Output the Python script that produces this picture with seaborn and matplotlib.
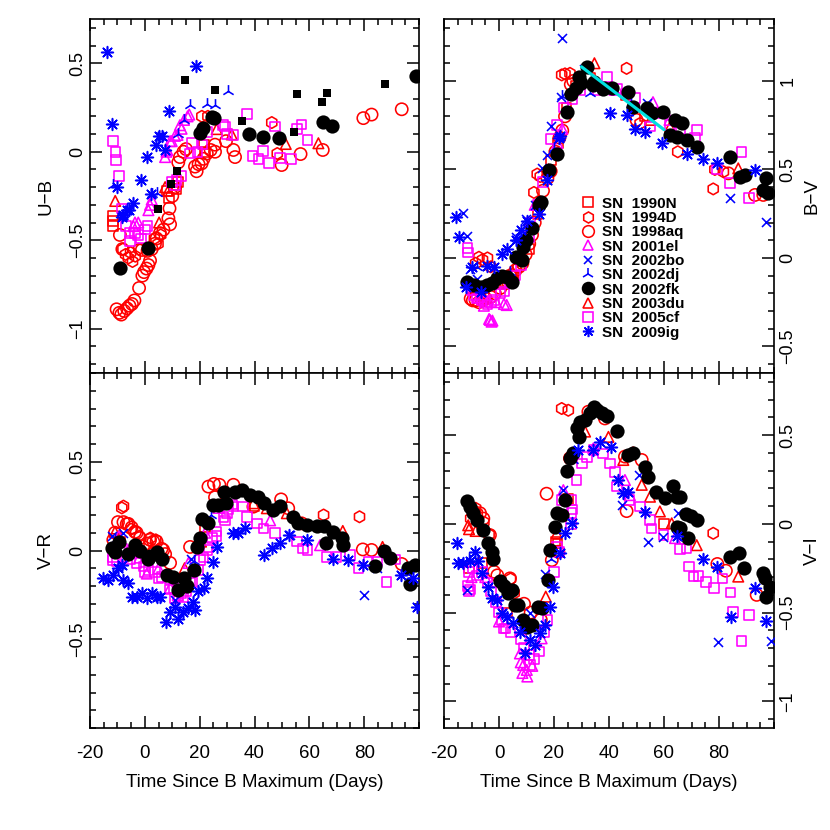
import matplotlib
matplotlib.use("Agg")
import matplotlib.pyplot as plt
import seaborn as sns
import pandas as pd
from matplotlib.lines import Line2D
from matplotlib.ticker import FixedLocator, MultipleLocator

# ---------------- data (time since B max [d], colour [mag]) ----------------
SN_NAMES = ["SN  1990N", "SN  1994D", "SN  1998aq", "SN  2001el", "SN  2002bo",
            "SN  2002dj", "SN  2002fk", "SN  2003du", "SN  2005cf", "SN  2009ig"]

# ----- U-B -----
UB_1990N = [(-11.5,-0.36),(-11.5,-0.39),(-11.5,-0.42),(8.0,-0.22),(8.8,-0.26),(10.4,-0.19),
            (11.6,-0.21),(12.2,-0.17),(21.6,0.04),(22.0,0.0)]
UB_1994D = [(-8.0,-0.55),(-7.0,-0.58),(-6.0,-0.60),(-5.2,-0.57),(-4.5,-0.62),(-3.5,-0.59),
            (-2.2,-0.55),(3.5,-0.49),(4.8,-0.52),(5.8,-0.47),(20.8,0.2),(23.0,0.2),(46.3,0.165),(48.3,-0.01)]
UB_1998aq = [(-10.3,-0.89),(-9.3,-0.91),(-8.6,-0.92),(-7.5,-0.90),(-6.5,-0.885),(-5.6,-0.87),(-4.7,-0.86),
             (-3.8,-0.84),(-2.1,-0.77),(-0.9,-0.70),(-0.3,-0.68),(0.6,-0.66),(1.3,-0.64),(1.9,-0.615),
             (-9.1,-0.47),(-8.2,-0.55),(-1.1,-0.555),(1.0,-0.56),(2.5,-0.55),(3.7,-0.52),(4.3,-0.49),
             (5.5,-0.46),(6.8,-0.44),(8.6,-0.376),(9.2,-0.41),(9.0,-0.32),(10.0,-0.25),(11.0,-0.2),
             (12.2,-0.06),(12.8,-0.03),(14.1,0.0),(15.0,0.015),(18.3,-0.084),(18.9,-0.11),(19.6,-0.07),
             (20.7,-0.066),(21.4,-0.04),(22.6,-0.01),(24.0,0.01),(25.6,0.0),(25.6,0.04),(29.6,0.06),
             (32.3,0.01),(32.9,-0.03),(49.9,-0.075),(56.8,-0.013),(64.9,0.01),(79.7,0.19),(82.7,0.21),(93.7,0.24)]
UB_2001el = [(-4.2,-0.42),(-3.6,-0.40),(-2.4,-0.40),(1.3,-0.33),(1.9,-0.30),(2.5,-0.27),(7.4,-0.03),
             (7.9,0.0),(8.2,0.01),(9.2,0.06),(9.8,0.06),(11.0,0.09),(11.9,0.095),(12.8,0.15),(13.4,0.13),
             (14.3,0.18),(15.6,0.20),(16.2,0.21)]
UB_2002bo = []
UB_2002dj = [(-11.5,-0.19),(2.5,-0.24),(4.3,-0.235),(12.2,0.10),(14.4,0.18),(16.5,0.265),(22.6,0.27),
             (25.6,0.265),(30.5,0.345)]
UB_2002fk = [(-9.0,-0.655),(1.3,-0.546),(20.1,0.108),(21.1,0.132),(24.4,0.198),(25.2,0.19),(38.1,0.098),
             (43.0,0.085),(48.9,0.076),(65.1,0.166),(68.2,0.147),(98.9,0.43)]
UB_2003du = [(-10.8,-0.278),(5.2,-0.40),(7.4,-0.20),(8.5,-0.22),(26.2,0.128),(31.7,0.098),(51.4,0.044),(63.3,0.048)]
UB_2005cf = [(-11.7,0.06),(-10.7,0.0),(-10.6,-0.047),(-9.5,-0.136),(-8.4,-0.32),(-6.9,-0.42),(-5.6,-0.46),
             (-5.4,-0.505),(-3.6,-0.46),(-2.5,-0.47),(-1.5,-0.49),(0.1,-0.44),(1.0,-0.42),(10.0,-0.17),
             (11.0,-0.19),(11.6,-0.16),(13.4,-0.136),(16.5,-0.01),(17.1,0.05),(19.2,0.0),(21.0,0.04),
             (22.6,0.11),(28.6,0.15),(29.2,0.142),(29.9,0.1),(32.3,0.095),(37.3,0.215),(39.3,-0.024),
             (41.4,-0.04),(43.2,0.005),(45.4,-0.062),(47.5,0.142),(49.3,-0.037),(53.3,-0.04),(55.4,0.129),
             (57.2,0.155),(59.3,0.066)]
UB_2009ig = [(-13.9,0.562),(-12.1,0.155),(-10.0,-0.20),(-8.4,-0.37),(-7.8,-0.36),(-6.6,-0.33),
             (-5.6,-0.33),(-4.2,-0.29),(-1.4,-0.16),(0.7,-0.03),(2.3,-0.24),(4.0,0.04),(5.0,0.09),
             (6.1,0.09),(7.4,0.01),(8.9,0.23),(18.7,0.484)]
UB_extra = [(4.7,-0.323),(9.6,-0.182),(11.6,-0.107),(14.7,0.403),(25.6,0.347),(35.6,0.174),(54.5,0.11),
            (55.6,0.324),(64.6,0.281),(66.6,0.334),(87.6,0.381)]

# ----- B-V -----
BV_1990N = [(2.0,-0.15),(5.0,-0.10),(8.5,-0.02),(10.9,0.05),(14.0,0.25),(19.0,0.55),(21.5,0.65),
            (24.5,0.85),(28.0,0.97),(33.0,1.02),(46.0,0.92),(53.0,0.80)]
BV_1994D = [(-8.5,-0.03),(-7.3,0.004),(-6.0,-0.01),(-4.2,0.0),(-3.0,-0.05),(12.7,0.37),(13.9,0.474),
            (15.0,0.46),(22.8,1.034),(24.0,1.04),(25.8,1.043),(46.4,1.071),(51.3,0.76),(65.0,0.6),
            (77.9,0.39),(78.5,0.5),(81.6,0.487)]
BV_1998aq = [(-10.3,-0.23),(-9.5,-0.24),(-8.5,-0.24),(-7.3,-0.25),(-6.0,-0.24),(-4.8,-0.23),(-3.0,-0.22),
             (-1.5,-0.20),(0.5,-0.17),(2.0,-0.13),(4.0,-0.10),(6.0,-0.07),(7.3,-0.05),(8.5,-0.03),
             (9.7,0.02),(11.0,0.08),(12.0,0.13),(13.0,0.20),(14.5,0.30),(16.0,0.38),(17.6,0.45),
             (18.8,0.49),(20.5,0.60),(22.0,0.68),(23.0,0.72),(24.0,0.80),(26.1,0.98),(27.0,1.00),
             (50.0,0.78),(83.4,0.478),(93.1,0.356),(96.1,0.356)]
BV_2001el = [(-7.5,-0.22),(-5.5,-0.27),(-3.6,-0.345),(-3.3,-0.35),(-2.7,-0.36),(-2.4,-0.354),(-1.0,-0.25),
             (1.8,-0.26),(2.8,-0.266),(13.0,0.30),(21.2,0.65),(23.0,0.73),(42.0,0.95),(56.0,0.88),(62.0,0.78)]
BV_2002bo = [(-13.0,0.256),(-11.8,0.124),(-10.5,-0.06),(-8.0,-0.12),(6.1,0.12),(9.7,0.22),(13.0,0.30),
             (15.8,0.51),(17.3,0.58),(18.8,0.745),(22.4,0.911),(23.0,1.244),(31.0,1.07),(53.9,0.874),
             (84.0,0.34),(97.1,0.205)]
BV_2002dj = [(-8.0,-0.05),(4.0,-0.08),(10.0,0.15),(14.0,0.30),(20.0,0.62),(22.8,0.915),(33.0,0.93),(48.0,0.87)]
BV_2002fk = [(-11.5,-0.134),(-9.1,-0.153),(-6.7,-0.162),(-4.2,-0.153),(-2.4,-0.143),(-0.6,-0.115),
             (1.2,-0.102),(3.0,-0.106),(4.8,-0.134),(6.1,0.007),(8.5,-0.012),(8.8,0.063),(9.7,0.1),
             (12.1,0.167),(14.5,0.298),(15.2,0.317),(18.2,0.496),(21.0,0.59),(24.8,0.826),(26.1,0.926),
             (27.9,0.958),(29.1,1.024),(29.7,0.987),(32.1,1.081),(34.3,0.977),(34.5,0.996),(37.9,0.953),
             (38.2,0.958),(41.0,0.958),(47.0,0.939),(48.8,0.851),(53.7,0.845),(55.5,0.817),(59.8,0.826),
             (62.2,0.695),(63.9,0.779),(64.6,0.685),(66.4,0.76),(68.2,0.666),(71.9,0.629),(84.0,0.568),
             (87.6,0.459),(89.5,0.469),(96.1,0.384),(97.1,0.45),(97.9,0.365)]
BV_2003du = [(-9.0,-0.17),(0.0,-0.14),(5.0,-0.08),(18.0,0.50),(34.7,1.1),(55.0,0.78),(62.2,0.74),(87.0,0.506)]
BV_2005cf = [(-11.5,0.056),(-11.3,0.03),(-10.0,-0.18),(-9.0,-0.21),(-7.9,-0.23),(-6.1,-0.24),(-5.0,-0.25),
             (-4.2,-0.264),(-3.0,-0.25),(-1.8,-0.236),(0.6,-0.20),(2.0,-0.19),(4.0,-0.14),(6.0,-0.10),
             (8.0,-0.04),(10.9,0.12),(11.5,0.196),(14.0,0.30),(16.0,0.43),(18.8,0.672),(21.0,0.75),
             (23.5,0.85),(26.7,0.898),(29.7,0.945),(35.8,0.945),(39.2,1.024),(40.0,0.96),(42.8,0.958),
             (46.0,0.93),(49.5,0.902),(54.9,0.742),(58.0,0.82),(62.0,0.75),(66.0,0.73),(71.3,0.676),
             (71.9,0.723),(79.2,0.5),(84.0,0.422),(88.2,0.6),(90.9,0.34)]
BV_2009ig = [(-15.6,0.23),(-14.5,0.12),(-12.1,-0.166),(-9.7,-0.05),(-6.7,-0.19),(-4.2,-0.045),(-1.8,-0.05),
             (1.2,0.02),(3.0,0.05),(6.1,0.10),(7.9,0.16),(10.3,0.21),(14.5,0.25),(17.6,0.44),(21.8,0.68),
             (22.2,0.69),(40.4,0.817),(46.4,0.808),(49.5,0.729),(53.1,0.713),(59.4,0.647),(68.2,0.59),
             (74.3,0.557),(79.2,0.535),(93.1,0.497)]
LIRA_T = [30, 60]
LIRA_C = [1.08, 0.725]

# ----- V-R -----
VR_1990N = [(-9.0,0.05),(-2.0,0.03),(5.0,-0.02),(12.0,-0.2),(22.0,0.13),(40.0,0.25)]
VR_1994D = [(-8.4,0.24),(-7.8,0.25),(-5.0,0.12),(-2.0,0.08),(2.0,0.07),(4.0,0.06),(65.2,0.2),(78.3,0.19)]
VR_1998aq = [(-11.5,0.06),(-10.9,0.10),(-9.8,0.16),(-7.8,0.16),(-6.6,0.15),(-6.0,0.15),(-4.8,0.13),
             (-3.6,0.105),(-3.0,0.10),(-1.8,0.07),(0.7,0.04),(1.9,0.06),(3.1,0.05),(4.3,0.05),(6.1,0.01),
             (6.7,0.003),(7.4,-0.02),(9.2,-0.07),(16.5,0.02),(23.2,0.36),(25.2,0.375),(25.6,0.30),
             (27.2,0.37),(32.3,0.37),(39.6,0.247),(49.7,0.288),(52.3,0.238),(57.2,0.153),(79.5,0.006),
             (82.7,0.003),(93.7,-0.076)]
VR_2001el = [(-9.5,0.08),(-6.0,0.0),(-2.0,-0.04),(0.7,-0.13),(5.0,-0.1),(9.2,-0.21),(12.0,-0.25),
             (15.9,-0.07),(22.0,0.1),(26.8,0.24),(30.0,0.28),(45.7,0.17),(63.9,0.03)]
VR_2002bo = [(-12.0,0.08),(-8.0,0.1),(11.0,-0.28),(17.0,-0.05),(53.0,0.09),(80.0,-0.25),(84.5,-0.1)]
VR_2002dj = [(-11.0,0.06),(18.0,-0.06),(24.0,0.2)]
VR_2002fk = [(-12.1,0.013),(-10.9,-0.006),(-9.3,0.05),(-6.0,-0.02),(-3.6,0.03),(-1.8,0.0),(1.3,-0.05),
             (1.9,-0.03),(4.3,-0.01),(6.1,-0.05),(8.0,-0.14),(10.2,-0.15),(12.2,-0.22),(14.3,-0.157),
             (15.2,-0.2),(18.1,-0.11),(19.0,0.02),(20.1,0.07),(20.8,0.18),(23.2,0.153),(24.8,0.256),
             (26.8,0.256),(28.9,0.331),(29.6,0.27),(32.9,0.331),(35.3,0.34),(38.4,0.31),(41.4,0.30),
             (43.3,0.27),(46.9,0.23),(49.3,0.25),(54.2,0.19),(56.0,0.157),(59.0,0.146),(62.7,0.136),
             (65.3,0.136),(66.0,0.04),(68.7,0.106),(71.8,0.07),(72.3,0.03),(84.0,-0.087),(87.2,0.0),
             (89.3,-0.04),(96.1,-0.1),(96.8,-0.19),(98.5,-0.08)]
VR_2003du = [(-10.9,0.105),(-9.5,0.08),(2.0,0.0),(14.5,-0.1),(20.5,0.05),(39.6,0.266),(44.5,0.238),
             (51.8,0.21),(72.2,0.11),(86.7,0.02)]
VR_2005cf = [(-11.7,-0.053),(-11.5,-0.04),(-10.3,-0.06),(-9.0,-0.006),(-8.4,0.01),(-7.8,-0.04),(-5.4,-0.05),
             (-3.0,-0.07),(-0.5,-0.09),(0.1,-0.12),(1.3,-0.11),(3.7,-0.12),(5.0,-0.157),(6.1,-0.15),
             (9.2,-0.16),(9.2,-0.22),(10.4,-0.21),(11.0,-0.27),(12.2,-0.26),(13.4,-0.24),(14.1,-0.264),
             (15.2,-0.23),(16.5,-0.18),(17.1,-0.176),(19.5,-0.11),(20.1,-0.053),(21.4,-0.04),(22.6,0.003),
             (23.2,0.02),(24.4,0.07),(26.2,0.08),(26.2,0.106),(28.7,0.19),(29.2,0.17),(29.9,0.21),
             (30.5,0.23),(31.8,0.26),(32.3,0.247),(35.9,0.247),(37.2,0.19),(40.9,0.153),(43.3,0.125),
             (47.5,0.097),(55.4,0.05),(57.8,0.012),(59.3,0.003),(66.3,-0.035),(69.9,-0.035),(74.8,-0.025),
             (77.9,-0.1),(81.6,-0.063),(84.6,-0.063),(88.2,-0.176),(91.2,-0.05)]
VR_2009ig = [(-15.1,-0.157),(-13.3,-0.166),(-11.5,-0.14),(-9.7,-0.1),(-8.5,-0.08),(-7.8,-0.166),
             (-6.0,-0.185),(-4.8,-0.26),(-3.0,-0.264),(-1.1,-0.24),(0.7,-0.27),(2.5,-0.24),(4.3,-0.264),
             (5.5,-0.264),(7.7,-0.40),(9.2,-0.345),(11.0,-0.316),(12.2,-0.387),(14.1,-0.345),(15.9,-0.326),
             (17.7,-0.29),(18.3,-0.335),(19.5,-0.23),(21.6,-0.213),(22.6,-0.157),(24.8,-0.063),(26.2,0.021),
             (32.3,0.097),(34.1,0.097),(36.5,0.125),(43.3,-0.025),(46.3,0.012),(49.3,0.04),(52.7,0.087),
             (59.3,0.06),(68.5,-0.05),(74.2,-0.053),(79.5,-0.08),(93.4,-0.138),(97.8,-0.157),(99.3,-0.316)]

# ----- V-I -----
VI_1990N = [(-11.0,-0.25),(-6.0,-0.22),(3.0,-0.5),(20.5,-0.1),(21.3,-0.11),(25.0,0.14),(60.0,0.0)]
VI_1994D = [(-10.3,0.03),(-8.5,0.088),(-7.9,0.06),(-5.5,0.01),(-3.6,-0.06),(1.2,-0.34),(4.2,-0.31),
            (5.5,-0.39),(22.8,0.65),(25.2,0.64),(48.8,0.40),(77.9,-0.053)]
VI_1998aq = [(-9.3,0.07),(-6.9,0.06),(-5.7,0.03),(-3.3,-0.063),(-1.8,-0.27),(-0.6,-0.29),(4.0,-0.307),
             (9.1,-0.45),(11.5,-0.5),(15.2,-0.54),(17.3,0.17),(19.2,-0.204),(21.6,-0.157),(25.8,0.37),
             (32.5,0.632),(38.5,0.594),(45.8,0.379),(46.4,0.072),(51.9,0.36),(79.4,-0.226),(82.5,-0.264),
             (93.7,-0.4)]
VI_2001el = [(-10.0,-0.3),(-5.0,-0.3),(0.0,-0.55),(7.6,-0.73),(7.9,-0.78),(8.5,-0.84),(8.8,-0.795),
             (10.1,-0.823),(10.3,-0.86),(12.1,-0.80),(15.5,-0.645),(23.4,0.19),(34.3,0.425),(45.8,0.247),
             (47.6,0.162),(64.0,-0.08)]
VI_2002bo = [(-11.8,-0.37),(11.3,-0.504),(16.7,-0.28),(23.2,0.19),(44.6,0.106),(51.0,0.275),(54.3,-0.1),
             (59.5,-0.073),(65.2,0.063),(79.8,-0.667),(98.8,-0.66)]
VI_2002dj = [(-11.0,-0.2),(19.0,-0.2),(27.0,0.36)]
VI_2002fk = [(-11.5,0.13),(-10.5,0.097),(-9.3,0.06),(-8.1,0.02),(-5.7,-0.035),(-3.9,-0.106),(-2.7,-0.157),
             (-2.1,-0.2),(0.4,-0.32),(1.8,-0.35),(3.4,-0.39),(4.6,-0.37),(5.8,-0.457),(7.0,-0.457),
             (8.8,-0.54),(10.1,-0.58),(11.9,-0.57),(14.3,-0.466),(15.5,-0.475),(17.9,-0.316),(18.5,-0.147),
             (20.4,-0.017),(21.0,0.06),(22.8,0.05),(24.0,0.135),(24.6,0.3),(25.8,0.37),(27.0,0.397),
             (28.2,0.538),(29.2,0.49),(29.5,0.576),(31.3,0.585),(33.1,0.622),(34.5,0.66),(35.5,0.64),
             (37.3,0.627),(39.2,0.608),(43.0,0.525),(47.0,0.388),(48.8,0.401),(53.1,0.322),(54.3,0.266),
             (57.1,0.181),(60.4,0.144),(63.2,0.213),(64.6,0.153),(65.8,0.153),(64.6,-0.017),(65.8,-0.026),
             (68.0,0.055),(69.7,0.044),(71.9,0.021),(68.8,-0.081),(84.0,-0.188),(87.4,-0.162),(89.2,-0.25),
             (96.1,-0.278),(96.7,-0.307),(97.1,-0.414),(98.5,-0.354)]
VI_2003du = [(-11.2,-0.008),(-10.9,-0.03),(-8.5,-0.04),(17.0,-0.41),(21.0,-0.053),(31.3,0.52),(39.8,0.49),
             (45.2,0.36),(51.9,0.22),(54.9,0.153),(58.5,0.07),(62.8,0.003),(71.9,-0.12),(87.0,-0.297)]
VI_2005cf = [(-11.2,-0.35),(-10.9,-0.27),(-10.9,-0.38),(-10.5,-0.37),(-9.7,-0.25),(-7.9,-0.29),(-6.1,-0.27),
             (-4.2,-0.33),(-3.0,-0.38),(-1.2,-0.44),(0.0,-0.5),(1.2,-0.54),(1.6,-0.59),(2.4,-0.59),
             (4.2,-0.61),(7.9,-0.65),(9.1,-0.7),(10.9,-0.74),(11.3,-0.795),(12.7,-0.76),(14.5,-0.72),
             (16.4,-0.61),(17.6,-0.54),(20.0,-0.27),(21.0,-0.128),(21.8,-0.16),(22.8,0.134),(26.1,0.0),
             (26.4,0.06),(26.4,0.134),(26.7,0.08),(28.2,0.247),(30.1,0.34),(31.9,0.378),(34.3,0.416),
             (37.9,0.397),(40.4,0.34),(42.2,0.294),(42.8,0.21),(47.4,0.134),(51.3,0.097),(54.9,0.022),
             (55.5,-0.026),(59.8,-0.063),(65.8,-0.143),(68.2,-0.138),(69.2,-0.24),(70.7,-0.297),
             (72.5,-0.294),(75.3,-0.326),(78.2,-0.363),(81.3,-0.307),(84.2,-0.386),(85.2,-0.495),
             (88.2,-0.66),(91.0,-0.513)]
VI_2009ig = [(-15.4,-0.106),(-14.8,-0.22),(-13.0,-0.22),(-10.5,-0.21),(-8.7,-0.157),(-7.5,-0.21),
             (-6.3,-0.279),(-3.9,-0.354),(-2.7,-0.42),(-0.8,-0.43),(1.0,-0.504),(2.8,-0.523),(5.2,-0.56),
             (7.6,-0.607),(9.5,-0.73),(11.3,-0.654),(13.1,-0.682),(14.9,-0.617),(16.7,-0.57),(18.5,-0.466),
             (19.8,-0.354),(22.2,-0.166),(24.0,-0.053),(26.4,0.003),(28.8,0.416),(34.3,0.416),(36.7,0.463),
             (40.6,0.431),(43.4,0.247),(45.0,0.172),(47.0,0.181),(53.1,0.068),(64.6,-0.068),(74.3,-0.198),
             (79.2,-0.241),(84.2,-0.526),(93.1,-0.36),(97.1,-0.547)]

# ---------------- styles ----------------
RED, MAG, BLUE = "#FF0000", "#FF00FF", "#0000FF"
STYLE = {
    "SN  1990N":  dict(marker="s", color=RED, open=True, s=48),
    "SN  1994D":  dict(marker="h", color=RED, open=True, s=70),
    "SN  1998aq": dict(marker="o", color=RED, open=True, s=78),
    "SN  2001el": dict(marker="^", color=MAG, open=True, s=58),
    "SN  2002bo": dict(marker="x", color=BLUE, open=False, s=42),
    "SN  2002dj": dict(marker="2", color=BLUE, open=False, s=85),
    "SN  2002fk": dict(marker="o", color="black", open=False, s=105),
    "SN  2003du": dict(marker="^", color=RED, open=True, s=58),
    "SN  2005cf": dict(marker="s", color=MAG, open=True, s=48),
    "SN  2009ig": dict(marker=(8, 2, 0), color=BLUE, open=False, s=72),
}
MLW = 1.15

panels = {
    "UB": [UB_1990N, UB_1994D, UB_1998aq, UB_2001el, UB_2002bo, UB_2002dj, UB_2002fk, UB_2003du, UB_2005cf, UB_2009ig],
    "BV": [BV_1990N, BV_1994D, BV_1998aq, BV_2001el, BV_2002bo, BV_2002dj, BV_2002fk, BV_2003du, BV_2005cf, BV_2009ig],
    "VR": [VR_1990N, VR_1994D, VR_1998aq, VR_2001el, VR_2002bo, VR_2002dj, VR_2002fk, VR_2003du, VR_2005cf, VR_2009ig],
    "VI": [VI_1990N, VI_1994D, VI_1998aq, VI_2001el, VI_2002bo, VI_2002dj, VI_2002fk, VI_2003du, VI_2005cf, VI_2009ig],
}
DRAW_ORDER = [0, 1, 2, 7, 3, 8, 4, 5, 6, 9]

sns.set_theme(style="white")
plt.rcParams["font.family"] = ["Liberation Sans", "DejaVu Sans"]
plt.rcParams["axes.unicode_minus"] = True
for k in ["text.color", "axes.labelcolor", "xtick.color", "ytick.color", "axes.edgecolor"]:
    plt.rcParams[k] = "black"

fig = plt.figure(figsize=(8.3, 8.3), dpi=100)
W = H = 830.0
def pos(x0, y0, x1, y1):
    return [x0 / W, 1 - y1 / H, (x1 - x0) / W, (y1 - y0) / H]

ax_ub = fig.add_axes(pos(90, 19, 419, 373))
ax_bv = fig.add_axes(pos(444, 19, 774, 373))
ax_vr = fig.add_axes(pos(90, 373, 419, 728))
ax_vi = fig.add_axes(pos(444, 373, 774, 728))

def draw(ax, series):
    for i in DRAW_ORDER:
        pts = series[i]
        if not pts:
            continue
        name = SN_NAMES[i]
        st = STYLE[name]
        df = pd.DataFrame(pts, columns=["t", "c"])
        if st["open"]:
            sns.scatterplot(data=df, x="t", y="c", ax=ax, marker=st["marker"], s=st["s"],
                            color=st["color"], facecolor="none", edgecolor=st["color"],
                            linewidth=MLW, legend=False, zorder=3)
        else:
            sns.scatterplot(data=df, x="t", y="c", ax=ax, marker=st["marker"], s=st["s"],
                            color=st["color"], linewidth=MLW if st["marker"] != "o" else 0,
                            legend=False, zorder=3)

draw(ax_ub, panels["UB"])
df_extra = pd.DataFrame(UB_extra, columns=["t", "c"])
sns.scatterplot(data=df_extra, x="t", y="c", ax=ax_ub, marker="s", s=36, color="black",
                linewidth=0, legend=False, zorder=3)
draw(ax_bv, panels["BV"])
sns.lineplot(x=LIRA_T, y=LIRA_C, ax=ax_bv, color="#00E0E0", linewidth=2.3, zorder=4)
draw(ax_vr, panels["VR"])
draw(ax_vi, panels["VI"])

ylims = {"UB": (-1.25, 0.75), "BV": (-0.65, 1.35), "VR": (-1.0, 1.0), "VI": (-1.15, 0.85)}
yt = {"UB": [-1, -0.5, 0, 0.5], "BV": [-0.5, 0, 0.5, 1], "VR": [-0.5, 0, 0.5], "VI": [-1, -0.5, 0, 0.5]}
def fmt(v):
    s = ("%g" % v)
    return s.replace("-", "\u2212")

for key, ax, right, bottom, lab in [("UB", ax_ub, False, False, "U\u2212B"),
                                    ("BV", ax_bv, True, False, "B\u2212V"),
                                    ("VR", ax_vr, False, True, "V\u2212R"),
                                    ("VI", ax_vi, True, True, "V\u2212I")]:
    ax.set_facecolor("white")
    ax.set_xlim(-20, 100)
    ax.set_ylim(*ylims[key])
    ax.xaxis.set_major_locator(FixedLocator([-20, 0, 20, 40, 60, 80]))
    ax.xaxis.set_minor_locator(MultipleLocator(5))
    ax.set_yticks(yt[key], [fmt(v) for v in yt[key]])
    ax.yaxis.set_minor_locator(MultipleLocator(0.1))
    for sp in ax.spines.values():
        sp.set_color("black")
        sp.set_linewidth(1.2)
    ax.tick_params(which="both", direction="in", top=True, bottom=True, left=True, right=True,
                   color="black", width=1.1)
    ax.tick_params(which="major", length=8.5)
    ax.tick_params(which="minor", length=4.3)
    ax.tick_params(axis="y", labelrotation=90, labelsize=13, pad=3 if not right else 4,
                   labelleft=not right, labelright=right)
    ax.tick_params(axis="x", labelsize=13.5, pad=12, labelbottom=bottom, labeltop=False)
    for t in ax.get_yticklabels():
        t.set_va("center")
    if bottom:
        ax.set_xticklabels(["-20", "0", "20", "40", "60", "80"])
        ax.set_xlabel("Time Since B Maximum (Days)", fontsize=13.5, labelpad=9)
    else:
        ax.set_xlabel("")
    if right:
        ax.yaxis.set_label_position("right")
        ax.set_ylabel(lab, fontsize=13.5, rotation=90, labelpad=5)
    else:
        ax.set_ylabel(lab, fontsize=13.5, rotation=90, labelpad=10)

# legend
handles = []
for name in SN_NAMES:
    st = STYLE[name]
    ms = st["s"] ** 0.5 * 0.95
    if st["open"]:
        h = Line2D([], [], linestyle="None", marker=st["marker"], markersize=ms,
                   markerfacecolor="none", markeredgecolor=st["color"], markeredgewidth=MLW)
    else:
        h = Line2D([], [], linestyle="None", marker=st["marker"], markersize=ms,
                   color=st["color"], markeredgewidth=MLW if st["marker"] != "o" else 0)
    handles.append(h)
ax_bv.legend(handles, SN_NAMES, loc="upper left", bbox_to_anchor=(0.39, 0.515), frameon=False,
             prop={"weight": "bold", "size": 11}, labelspacing=0.02, handletextpad=0.35,
             handlelength=1.2, borderaxespad=0)

fig.savefig("out.png", dpi=100, facecolor="white")
